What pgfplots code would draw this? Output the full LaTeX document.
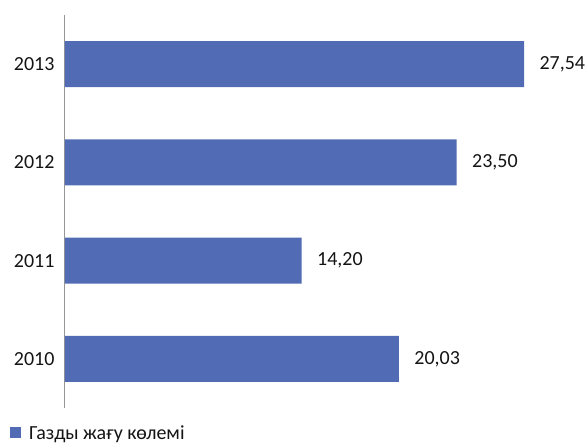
\documentclass[border=0pt]{standalone}
\usepackage{fontspec}
\setmainfont{Carlito}
\usepackage{pgfplots}
\pgfplotsset{compat=1.18}
\definecolor{barblue}{RGB}{81,108,180}
\definecolor{axisgrey}{RGB}{150,150,150}
\definecolor{txt}{RGB}{20,20,20}
\begin{document}
\begin{tikzpicture}
\useasboundingbox (0,0) rectangle (587pt,446pt);
\begin{axis}[
    at={(65pt,38pt)}, anchor=south west,
    scale only axis,
    width=500pt, height=393pt,
    xbar,
    xmin=0, xmax=30,
    ymin=-0.5, ymax=3.5,
    bar width=46pt,
    axis x line=none,
    axis y line*=left,
    y axis line style={axisgrey, line width=1pt, -},
    ytick={0,1,2,3},
    yticklabels={2010,2011,2012,2013},
    major tick length=0pt,
    yticklabel style={font=\fontsize{20}{22}\selectfont, text=txt, xshift=-7pt},
    nodes near coords,
    nodes near coords style={anchor=west, xshift=12pt, font=\fontsize{20}{22}\selectfont, text=txt,
        /pgf/number format/.cd, fixed, fixed zerofill, precision=2, use comma, assume math mode=true},
    legend style={at={(-0.11,-0.064)}, anchor=west, draw=none, fill=none,
        font=\fontsize{20}{22}\selectfont, text=txt, inner sep=0pt},
    legend image code/.code={\fill[barblue] (0pt,-5pt) rectangle (11pt,6pt); \path (0pt,0pt) (17pt,0pt);},
]
\addplot[fill=barblue, draw=none] coordinates {
    (20.03,0) (14.20,1) (23.50,2) (27.54,3)
};
\legend{Газды жағу көлемі}
\end{axis}
\end{tikzpicture}
\end{document}
